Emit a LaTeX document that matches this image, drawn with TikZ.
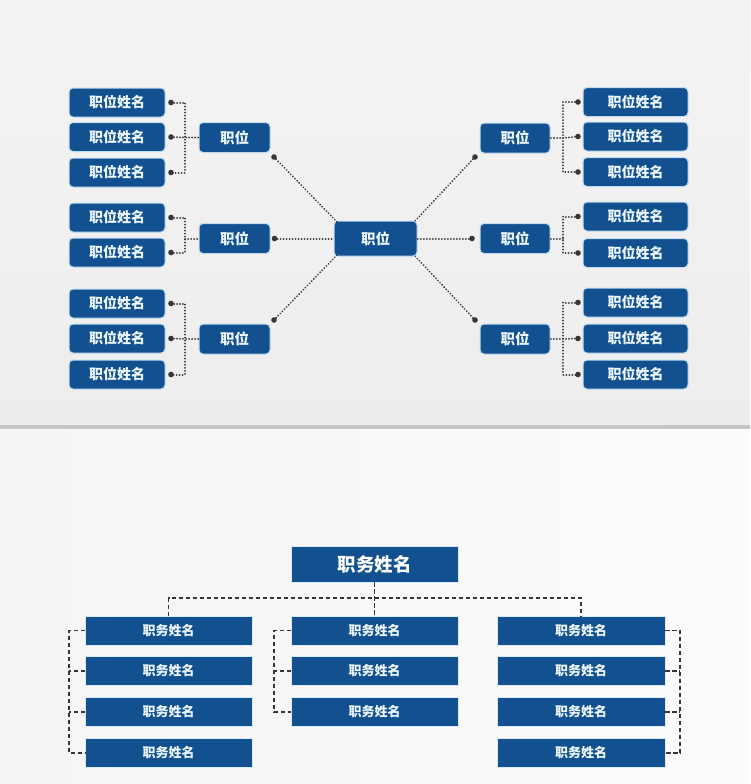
\documentclass[tikz,border=0pt]{standalone}
\usepackage{fontspec}
\newfontfamily\cjk{Noto Sans CJK SC}
\usetikzlibrary{calc}
\definecolor{boxblue}{HTML}{12508F}
\definecolor{halo}{HTML}{BFDDF2}
\definecolor{txt}{HTML}{EEF8FF}
\definecolor{conn}{HTML}{35353A}
\tikzset{
  x=1pt, y=-1pt,
  every node/.style={inner sep=0pt, outer sep=0pt},
  leaf/.style={fill=boxblue, draw=halo, line width=1pt, rounded corners=4pt, minimum height=29pt, text=txt, font=\cjk\bfseries\fontsize{14}{15}\selectfont},
  midbox/.style={fill=boxblue, draw=halo, line width=1pt, rounded corners=4pt, minimum width=71pt, minimum height=30pt, text=txt, font=\cjk\bfseries\fontsize{14.5}{15}\selectfont},
  ctrbox/.style={midbox, minimum width=83pt, minimum height=35pt},
  titlebox/.style={fill=boxblue, draw=halo!60, line width=0.6pt, minimum width=167pt, minimum height=36pt, text=white, font=\cjk\bfseries\fontsize{18.5}{19}\selectfont},
  colbox/.style={fill=boxblue, draw=halo!60, line width=0.6pt, minimum width=167pt, minimum height=29pt, text=txt, font=\cjk\bfseries\fontsize{13}{14}\selectfont},
  dotline/.style={draw=conn, line width=2pt, dash pattern=on 0.01pt off 3pt, line cap=round},
  dashline/.style={draw=conn, line width=1.5pt, dash pattern=on 4.5pt off 2.5pt},
  dotmark/.style={fill=conn},
}
\begin{document}
\begin{tikzpicture}
% background
\useasboundingbox (0,0) rectangle (750,784);
\shade[top color=white!91!gray, bottom color=white!86!gray] (0,0) rectangle (750,425);
\fill[gray!45] (0,425) rectangle (750,429);
\shade[left color=white!92!gray, right color=white!98!gray] (0,429) rectangle (750,784);

% ===== top: left leaves
\foreach \n/\y in {l1/102.5, l2/137, l3/172.5, l4/217.5, l5/252.5, l6/303.5, l7/338.5, l8/374.5}
  \node[leaf, minimum width=96pt] (\n) at (117,\y) {职位姓名};
% right leaves
\foreach \n/\y in {r1/102, r2/136.5, r3/172, r4/216.5, r5/253, r6/302.5, r7/338.5, r8/374.5}
  \node[leaf, minimum width=105pt] (\n) at (635.5,\y) {职位姓名};
% mid boxes
\node[midbox] (ml1) at (234.5,137.5) {职位};
\node[midbox] (ml2) at (234.5,238.5) {职位};
\node[midbox] (ml3) at (234.5,339) {职位};
\node[midbox, minimum width=70pt] (mr1) at (515,138) {职位};
\node[midbox, minimum width=70pt] (mr2) at (515,238.5) {职位};
\node[midbox, minimum width=70pt] (mr3) at (515,339) {职位};
\node[ctrbox] (c) at (375.5,238.5) {职位};

% left brackets
\foreach \a/\b/\cc/\m in {l1/l2/l3/ml1, l6/l7/l8/ml3}{
  \coordinate (da) at ($(\a.east)+(6,0)$);
  \coordinate (db) at ($(\b.east)+(6,0)$);
  \coordinate (dc) at ($(\cc.east)+(6,0)$);
  \coordinate (j) at ($(\m.west)+(-14,0)$);
  \draw[dotline] (da) -| (j) |- (dc);
  \draw[dotline] (db) -- (j) -- (\m.west);
  \foreach \d in {da,db,dc} \fill[dotmark] (\d) circle (2.8);
}
\coordinate (da) at ($(l4.east)+(6,0)$);
\coordinate (db) at ($(l5.east)+(6,0)$);
\coordinate (j) at ($(ml2.west)+(-14,0)$);
\draw[dotline] (da) -| (j) |- (db);
\draw[dotline] (j) -- (ml2.west);
\foreach \d in {da,db} \fill[dotmark] (\d) circle (2.8);

% right brackets
\foreach \a/\b/\cc/\m in {r1/r2/r3/mr1, r6/r7/r8/mr3}{
  \coordinate (da) at ($(\a.west)+(-5,0)$);
  \coordinate (db) at ($(\b.west)+(-5,0)$);
  \coordinate (dc) at ($(\cc.west)+(-5,0)$);
  \coordinate (j) at ($(\m.east)+(13,0)$);
  \draw[dotline] (da) -| (j) |- (dc);
  \draw[dotline] (db) -- (j) -- (\m.east);
  \foreach \d in {da,db,dc} \fill[dotmark] (\d) circle (2.8);
}
\coordinate (da) at ($(r4.west)+(-5,0)$);
\coordinate (db) at ($(r5.west)+(-5,0)$);
\coordinate (j) at ($(mr2.east)+(13,0)$);
\draw[dotline] (da) -| (j) |- (db);
\draw[dotline] (j) -- (mr2.east);
\foreach \d in {da,db} \fill[dotmark] (\d) circle (2.8);

% center spokes
\coordinate (s1) at ($(ml1.south east)+(4,4.5)$);
\coordinate (s2) at ($(ml2.east)+(4.5,0)$);
\coordinate (s3) at ($(ml3.north east)+(4,-4)$);
\coordinate (s4) at ($(mr1.south west)+(-5,4)$);
\coordinate (s5) at ($(mr2.west)+(-8,0)$);
\coordinate (s6) at ($(mr3.north west)+(-5,-4)$);
\draw[dotline] (s1) -- ($(c.north west)+(3,1)$);
\draw[dotline] (s2) -- (c.west);
\draw[dotline] (s3) -- ($(c.south west)+(3,-1)$);
\draw[dotline] (s4) -- ($(c.north east)+(-3,1)$);
\draw[dotline] (s5) -- (c.east);
\draw[dotline] (s6) -- ($(c.south east)+(-3,-1)$);
\foreach \d in {s1,s2,s3,s4,s5,s6} \fill[dotmark] (\d) circle (2.8);

% ===== bottom
\node[titlebox] (t) at (374.5,564) {职务姓名};
\foreach \n/\y in {1/630.5, 2/671, 3/712, 4/753} {
  \node[colbox] (a\n) at (168.5,\y) {职务姓名};
  \node[colbox, minimum width=168pt] (c\n) at (581,\y) {职务姓名};
}
\foreach \n/\y in {1/630.5, 2/671, 3/712}
  \node[colbox] (b\n) at (374.5,\y) {职务姓名};

\coordinate (bus) at (374.5,598);
\draw[dashline] (t.south) -- (b1.north);
\draw[dashline] (a1.north) |- (bus) -| (c1.north);

% brackets bottom
\draw[dashline] (a1.west) -- ++(-16,0) |- (a4.west);
\draw[dashline] (a2.west) -- ++(-16,0);
\draw[dashline] (a3.west) -- ++(-16,0);
\draw[dashline] (b1.west) -- ++(-17,0) |- (b3.west);
\draw[dashline] (b2.west) -- ++(-17,0);
\draw[dashline] (c1.east) -- ++(15,0) |- (c4.east);
\draw[dashline] (c2.east) -- ++(15,0);
\draw[dashline] (c3.east) -- ++(15,0);
\end{tikzpicture}
\end{document}
